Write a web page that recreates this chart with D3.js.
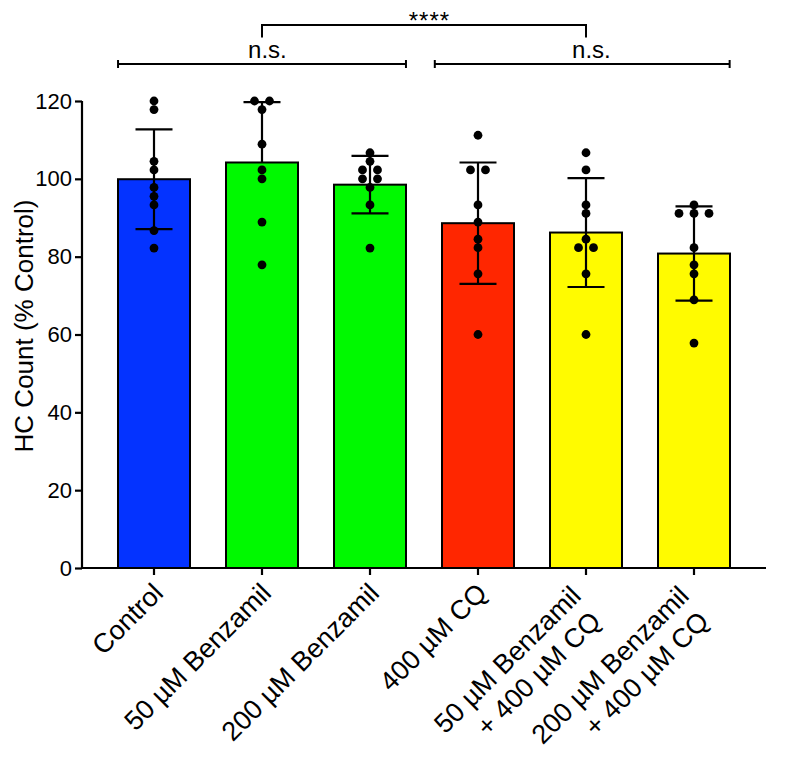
<!DOCTYPE html>
<html>
<head>
<meta charset="utf-8">
<script src="https://cdn.jsdelivr.net/npm/d3@7"></script>
<style>
  body { margin: 0; background: #fff; }
  text { font-family: "Liberation Sans", Arial, Helvetica, sans-serif; fill: #000; }
</style>
</head>
<body>
<svg id="chart" width="787" height="769"></svg>
<script>
// ---------------- data ----------------
const categories = ["Control", "50 µM Benzamil", "200 µM Benzamil", "400 µM CQ",
                    "50 µM Benzamil + 400 µM CQ", "200 µM Benzamil + 400 µM CQ"];
const labelLines = [["Control"], ["50 µM Benzamil"], ["200 µM Benzamil"], ["400 µM CQ"],
                    ["50 µM Benzamil", "+ 400 µM CQ"], ["200 µM Benzamil", "+ 400 µM CQ"]];
const means = [99.9, 104.2, 98.5, 88.6, 86.2, 80.8];
const sds   = [12.8, 15.5, 7.4, 15.6, 14.0, 12.1];
const errDirection = ["both", "up", "both", "both", "both", "both"];
const barColors = ["#0433FF", "#00F900", "#00F900", "#FF2600", "#FFFB00", "#FFFB00"];
const pointsControl   = [120.0, 117.8, 104.5, 102.3, 97.8, 95.5, 93.3, 86.7, 82.2];
const pointsBenz50    = [120.0, 120.0, 117.8, 108.9, 102.3, 100.0, 88.9, 77.9];
const pointsBenz200   = [106.7, 104.5, 102.3, 102.3, 100.0, 100.0, 97.8, 93.3, 82.2];
const pointsCQ        = [111.2, 102.3, 102.3, 93.3, 88.9, 84.5, 82.3, 75.6, 60.0];
const pointsBenz50CQ  = [106.7, 102.3, 93.3, 91.1, 84.5, 82.3, 82.3, 75.6, 60.0];
const pointsBenz200CQ = [93.3, 91.1, 91.1, 91.1, 82.3, 77.9, 75.6, 68.9, 57.8];
const allPoints = [pointsControl, pointsBenz50, pointsBenz200, pointsCQ, pointsBenz50CQ, pointsBenz200CQ];
const yTicks = [0, 20, 40, 60, 80, 100, 120];
const yLabel = "HC Count (% Control)";
// significance brackets: positions in category-index units
const comparisons = [
  { from: -0.333, to: 2.333, text: "n.s.", textAt: 1.05, level: 0 },
  { from: 2.6,    to: 5.33,  text: "n.s.", textAt: 4.05, level: 0 },
  { from: 1,      to: 4,     text: "****", textAt: 2.55, level: 1 }
];

// ---------------- layout ----------------
const svg = d3.select("#chart");
const x = d3.scaleBand().domain(categories).range([82, 766]).paddingInner(1/3).paddingOuter(1/3);
const y = d3.scaleLinear().domain([0, 120]).range([568, 101]);
const bw = x.bandwidth();
const cx = i => x(categories[i]) + bw / 2;
const xi = d3.scaleLinear().domain([0, 5]).range([cx(0), cx(5)]);

// bars
svg.append("g").selectAll("rect").data(categories).join("rect")
  .attr("x", d => x(d)).attr("width", bw)
  .attr("y", (d, i) => y(means[i])).attr("height", (d, i) => y(0) - y(means[i]))
  .attr("fill", (d, i) => barColors[i])
  .attr("stroke", "#000").attr("stroke-width", 2);

// error bars
const eg = svg.append("g").attr("stroke", "#000").attr("stroke-width", 2.2);
categories.forEach((c, i) => {
  const xc = cx(i);
  const top = y(means[i] + sds[i]);
  const bot = errDirection[i] === "both" ? y(means[i] - sds[i]) : y(means[i]);
  eg.append("line").attr("x1", xc).attr("x2", xc).attr("y1", top).attr("y2", bot);
  eg.append("line").attr("x1", xc - 18.5).attr("x2", xc + 18.5).attr("y1", top).attr("y2", top);
  if (errDirection[i] === "both")
    eg.append("line").attr("x1", xc - 18.5).attr("x2", xc + 18.5).attr("y1", bot).attr("y2", bot);
});

// points (identical values spread horizontally)
const pg = svg.append("g");
allPoints.forEach((pts, i) => {
  const groups = d3.group(pts, v => v);
  groups.forEach((vals, v) => {
    const m = vals.length;
    vals.forEach((_, k) => {
      pg.append("circle")
        .attr("cx", cx(i) + (k - (m - 1) / 2) * 15)
        .attr("cy", y(v)).attr("r", 4.4).attr("fill", "#000");
    });
  });
});

// y axis
const yAxis = svg.append("g").attr("transform", "translate(82,0)")
  .call(d3.axisLeft(y).tickValues(yTicks).tickSize(7).tickPadding(3));
yAxis.select(".domain").attr("stroke-width", 2.2).attr("d", "M0," + y(120) + "V" + y(0));
yAxis.selectAll(".tick line").attr("stroke-width", 2.2);
yAxis.selectAll(".tick text").style("font-size", "22px");

// x axis
const xAxis = svg.append("g").attr("transform", "translate(0,568)")
  .call(d3.axisBottom(x).tickSize(7).tickFormat(""));
xAxis.select(".domain").attr("stroke-width", 2.2).attr("d", "M82,0H766");
xAxis.selectAll(".tick line").attr("stroke-width", 2.2);

// x labels, rotated -45 (multi-line labels stacked downward)
const fs = 27, lh = 32;
categories.forEach((c, i) => {
  const lines = labelLines[i];
  const n = lines.length;
  const g = svg.append("g")
    .attr("transform", `translate(${cx(i) + 4},${568 + 20}) rotate(-45)`);
  lines.forEach((ln, k) => {
    g.append("text").style("font-size", fs + "px")
      .attr("text-anchor", "end")
      .attr("x", n > 1 ? (k === 0 ? -12 : -16) : 0)
      .attr("y", n > 1 ? -8 + k * lh : 0)
      .attr("dy", "0.35em")
      .text(ln);
  });
});

// y label
svg.append("text")
  .attr("transform", `translate(33,326) rotate(-90)`)
  .attr("text-anchor", "middle")
  .style("font-size", "26px")
  .text(yLabel);

// significance brackets
const sg = svg.append("g").attr("stroke", "#000").attr("fill", "none");
comparisons.forEach(cmp => {
  const x1 = xi(cmp.from), x2 = xi(cmp.to);
  if (cmp.level === 0) {
    const yy = 64;
    sg.append("line").attr("x1", x1).attr("x2", x2).attr("y1", yy).attr("y2", yy).attr("stroke-width", 2);
    sg.append("line").attr("x1", x1).attr("x2", x1).attr("y1", yy - 4).attr("y2", yy + 4).attr("stroke-width", 2);
    sg.append("line").attr("x1", x2).attr("x2", x2).attr("y1", yy - 4).attr("y2", yy + 4).attr("stroke-width", 2);
    svg.append("text").attr("x", xi(cmp.textAt)).attr("y", 58)
      .attr("text-anchor", "middle").style("font-size", "24px").text(cmp.text);
  } else {
    sg.append("path").attr("stroke-width", 2)
      .attr("d", `M${x1},37.5V25H${x2}V37.5`);
    svg.append("text").attr("x", xi(cmp.textAt)).attr("y", 29)
      .attr("text-anchor", "middle").style("font-size", "24px")
      .style("letter-spacing", "1px").text(cmp.text);
  }
});
</script>
</body>
</html>
